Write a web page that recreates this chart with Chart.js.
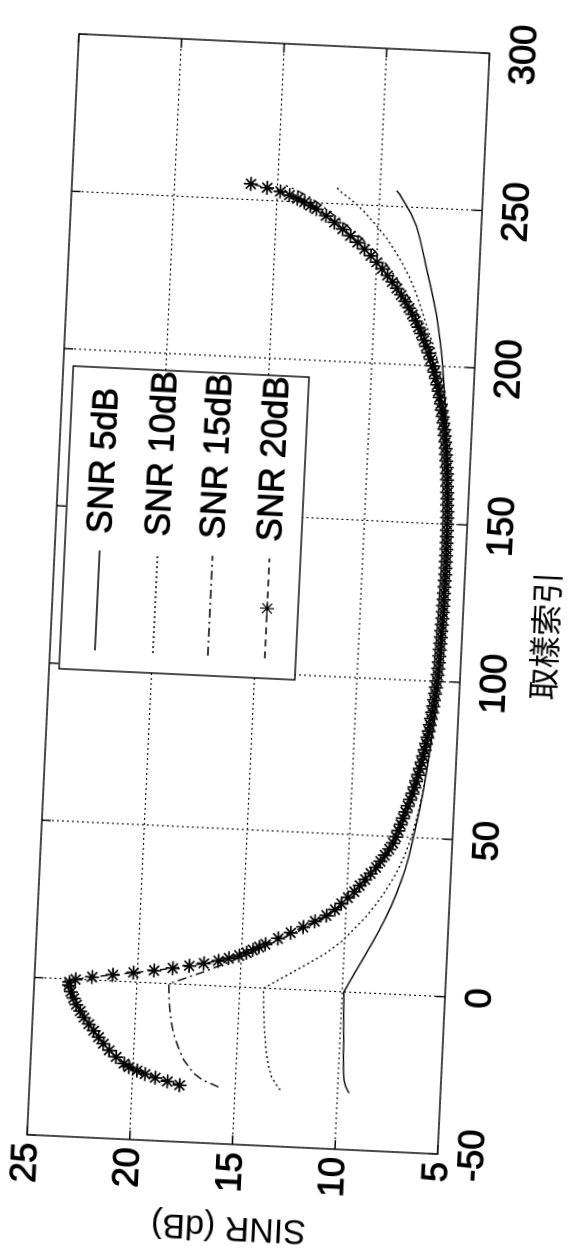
<!DOCTYPE html>
<html>
<head>
<meta charset="utf-8">
<script src="https://cdn.jsdelivr.net/npm/chart.js@4.4.0/dist/chart.umd.min.js"></script>
<style>
html, body { margin: 0; padding: 0; background: #fff; }
body { width: 571px; height: 1254px; overflow: hidden; position: relative; }
/* the figure is printed on its side, so the chart is drawn upright and turned */
#wrap {
    position: absolute; left: -407.25px; top: 343.75px;
    width: 1256px; height: 581px;
    transform-origin: 665.5px 245.5px;
    transform: rotate(-87.3deg);
}
</style>
</head>
<body>
<div id="wrap"><canvas id="sinrChart" width="1256" height="581"></canvas></div>
<script>
var seriesNames = ["SNR 5dB", "SNR 10dB", "SNR 15dB", "SNR 20dB"];
var xTicks = [-50, 0, 50, 100, 150, 200, 250, 300];
var yTicks = [5, 10, 15, 20, 25];
var xTitle = "取樣索引";
var yTitle = "SINR (dB)";

// sample index for the three plain curves
var idxLines = [-32, -30, -28, -24, -20, -16, -12, -8, -4, 0,
    4, 8, 12, 16, 20, 24, 28, 32, 36, 40,
    44, 48, 52, 56, 60, 64, 68, 72, 76, 80,
    84, 88, 92, 96, 100, 104, 108, 112, 116, 120,
    124, 128, 132, 136, 140, 144, 148, 152, 156, 160,
    164, 168, 172, 176, 180, 184, 188, 192, 196, 200,
    204, 208, 212, 216, 220, 224, 228, 232, 236, 240,
    244, 248, 250, 252, 254, 255];

var sinr5 = [9.45, 9.62, 9.72, 9.78, 9.80, 9.82, 9.85, 9.88, 9.90, 9.93,
    9.62, 9.30, 8.98, 8.66, 8.36, 8.08, 7.82, 7.60, 7.40, 7.22,
    7.08, 6.96, 6.85, 6.74, 6.64, 6.55, 6.47, 6.40, 6.33, 6.27,
    6.21, 6.16, 6.11, 6.07, 6.03, 6.00, 5.98, 5.96, 5.94, 5.93,
    5.92, 5.92, 5.92, 5.92, 5.93, 5.94, 5.95, 5.97, 5.99, 6.02,
    6.05, 6.09, 6.13, 6.18, 6.23, 6.29, 6.35, 6.42, 6.49, 6.56,
    6.64, 6.74, 6.85, 6.97, 7.12, 7.28, 7.45, 7.62, 7.78, 7.95,
    8.15, 8.45, 8.65, 8.85, 9.05, 9.20];

var sinr10 = [12.80, 13.05, 13.25, 13.45, 13.57, 13.65, 13.72, 13.77, 13.81, 13.84,
    12.85, 11.85, 10.90, 10.15, 9.60, 9.05, 8.60, 8.20, 7.85, 7.55,
    7.30, 7.10, 6.93, 6.79, 6.67, 6.57, 6.48, 6.40, 6.33, 6.27,
    6.22, 6.17, 6.13, 6.10, 6.07, 6.04, 6.02, 6.00, 5.99, 5.98,
    5.97, 5.97, 5.97, 5.97, 5.97, 5.98, 5.99, 6.00, 6.02, 6.05,
    6.08, 6.12, 6.17, 6.22, 6.28, 6.35, 6.43, 6.52, 6.63, 6.76,
    6.92, 7.15, 7.40, 7.62, 7.85, 8.10, 8.40, 8.75, 9.15, 9.60,
    10.15, 10.75, 11.10, 11.50, 11.95, 12.10];

var sinr15 = [15.80, 16.60, 17.05, 17.55, 17.85, 18.10, 18.25, 18.35, 18.42, 18.45,
    16.90, 15.50, 14.25, 13.10, 11.90, 10.85, 10.10, 9.50, 9.00, 8.55,
    8.15, 7.80, 7.58, 7.38, 7.18, 7.00, 6.85, 6.72, 6.59, 6.47,
    6.37, 6.29, 6.22, 6.16, 6.11, 6.07, 6.04, 6.02, 6.00, 5.99,
    5.98, 5.97, 5.96, 5.96, 5.96, 5.96, 5.97, 5.98, 6.00, 6.02,
    6.06, 6.10, 6.15, 6.21, 6.28, 6.37, 6.47, 6.60, 6.74, 6.92,
    7.12, 7.35, 7.60, 7.90, 8.25, 8.65, 9.10, 9.60, 10.20, 10.90,
    11.70, 12.55, 13.00, 13.50, 14.20, 14.60];

// the 20dB curve carries a star on every sample
var idx20 = [-32, -31, -30, -29, -28, -27, -26, -24, -22, -20,
    -18, -16, -14, -12, -10, -8, -6, -4, -2, -1,
    0, 1, 2, 3, 4, 5, 6, 7, 8, 9,
    10, 11, 12, 13, 14, 16, 18, 20, 22, 24,
    26, 28, 30, 32, 34, 36, 38, 40, 42, 44,
    46, 48, 50, 52, 54, 56, 58, 60, 62, 64,
    66, 68, 70, 72, 74, 76, 78, 80, 82, 84,
    86, 88, 90, 92, 94, 96, 98, 100, 102, 104,
    106, 108, 110, 112, 114, 116, 118, 120, 122, 124,
    126, 128, 130, 132, 134, 136, 138, 140, 142, 144,
    146, 148, 150, 152, 154, 156, 158, 160, 162, 164,
    166, 168, 170, 172, 174, 176, 178, 180, 182, 184,
    186, 188, 190, 192, 194, 196, 198, 200, 202, 204,
    206, 208, 210, 212, 214, 216, 218, 220, 222, 224,
    226, 228, 230, 232, 234, 236, 238, 240, 242, 244,
    246, 248, 249, 250, 251, 252, 253, 254, 255];

var sinr20 = [17.70, 18.30, 18.90, 19.40, 19.80, 20.20, 20.45, 20.85, 21.20, 21.50,
    21.75, 22.00, 22.25, 22.50, 22.70, 22.90, 23.05, 23.20, 23.30, 23.30,
    23.00, 22.20, 21.20, 20.20, 19.20, 18.30, 17.50, 16.80, 16.10, 15.60,
    15.10, 14.75, 14.45, 14.15, 13.85, 13.25, 12.65, 12.05, 11.50, 10.95,
    10.55, 10.25, 9.95, 9.65, 9.40, 9.15, 8.90, 8.65, 8.45, 8.25,
    8.05, 7.88, 7.75, 7.65, 7.55, 7.45, 7.35, 7.25, 7.15, 7.05,
    6.97, 6.90, 6.82, 6.75, 6.68, 6.62, 6.56, 6.50, 6.45, 6.40,
    6.36, 6.32, 6.28, 6.24, 6.21, 6.18, 6.15, 6.12, 6.10, 6.08,
    6.07, 6.06, 6.05, 6.04, 6.03, 6.02, 6.01, 6.00, 5.99, 5.99,
    5.98, 5.98, 5.97, 5.97, 5.96, 5.96, 5.96, 5.96, 5.96, 5.97,
    5.97, 5.98, 5.98, 5.99, 6.00, 6.02, 6.03, 6.05, 6.07, 6.09,
    6.11, 6.14, 6.17, 6.20, 6.23, 6.26, 6.30, 6.34, 6.39, 6.44,
    6.50, 6.56, 6.63, 6.70, 6.78, 6.86, 6.95, 7.05, 7.16, 7.28,
    7.40, 7.53, 7.67, 7.82, 7.98, 8.15, 8.33, 8.53, 8.74, 8.96,
    9.20, 9.45, 9.72, 10.00, 10.30, 10.62, 10.97, 11.34, 11.73, 12.14,
    12.57, 13.05, 13.35, 13.65, 14.00, 14.40, 14.85, 15.50, 16.30];

var labelFont = "Liberation Sans";
var cjkFont = "Noto Sans CJK TC";

function toPoints(xs, ys) {
    return xs.map(function(x, i) { return {x: x, y: ys[i]}; });
}

function drawStar(ctx, x, y, r) {
    ctx.beginPath();
    ctx.moveTo(x - r, y); ctx.lineTo(x + r, y);
    ctx.moveTo(x, y - r); ctx.lineTo(x, y + r);
    var d = r * 0.7071;
    ctx.moveTo(x - d, y - d); ctx.lineTo(x + d, y + d);
    ctx.moveTo(x - d, y + d); ctx.lineTo(x + d, y - d);
    ctx.stroke();
}

// box round the axes plus the small inward ticks, like a matlab figure
var framePlugin = {
    id: "frame",
    afterDatasetsDraw: function(chart) {
        var ctx = chart.ctx, a = chart.chartArea;
        var xs = chart.scales.x, ys = chart.scales.y;
        var tl = 9;
        ctx.save();
        ctx.strokeStyle = "#000";
        ctx.lineWidth = 1.4;
        ctx.setLineDash([]);
        ctx.strokeRect(a.left, a.top, a.right - a.left, a.bottom - a.top);
        ctx.beginPath();
        xTicks.forEach(function(v) {
            var px = xs.getPixelForValue(v);
            ctx.moveTo(px, a.bottom); ctx.lineTo(px, a.bottom - tl);
            ctx.moveTo(px, a.top); ctx.lineTo(px, a.top + tl);
        });
        yTicks.forEach(function(v) {
            var py = ys.getPixelForValue(v);
            ctx.moveTo(a.left, py); ctx.lineTo(a.left + tl, py);
            ctx.moveTo(a.right, py); ctx.lineTo(a.right - tl, py);
        });
        ctx.stroke();
        ctx.restore();
    }
};

// legend box sits inside the axes, as in the figure
var legendPlugin = {
    id: "insideLegend",
    afterDraw: function(chart) {
        var ctx = chart.ctx, a = chart.chartArea;
        var bx = a.left + 467, by = a.top + 10, bw = 303, bh = 236;
        var rows = [35, 93, 148, 205];
        ctx.save();
        ctx.fillStyle = "#fff";
        ctx.fillRect(bx, by, bw, bh);
        ctx.strokeStyle = "#000";
        ctx.lineWidth = 1.4;
        ctx.setLineDash([]);
        ctx.strokeRect(bx, by, bw, bh);
        chart.data.datasets.forEach(function(ds, i) {
            var y = by + rows[i];
            ctx.lineWidth = ds.borderWidth;
            ctx.setLineDash(ds.borderDash || []);
            ctx.beginPath();
            ctx.moveTo(bx + 20, y);
            ctx.lineTo(bx + 120, y);
            ctx.stroke();
            ctx.setLineDash([]);
            if (ds.pointRadius > 0) {
                ctx.lineWidth = 1.2;
                drawStar(ctx, bx + 70, y, ds.pointRadius);
            }
            ctx.fillStyle = "#000";
            ctx.font = "35px '" + labelFont + "'";
            ctx.textAlign = "left";
            ctx.textBaseline = "middle";
            ctx.lineWidth = 0.9;
            ctx.fillText(ds.label, bx + 137, y + 1);
            ctx.strokeText(ds.label, bx + 137, y + 1);
        });
        // x axis caption, set a bit off centre like the original
        ctx.font = "32px '" + cjkFont + "'";
        ctx.textAlign = "center";
        ctx.fillText(xTitle, chart.scales.x.getPixelForValue(116), a.bottom + 83);
        ctx.restore();
    }
};

window.addEventListener("DOMContentLoaded", function() {
    var elem = document.getElementById("sinrChart");
    var lineStyles = [[], [2, 3], [9, 4, 2, 4], [7, 5]];
    var seriesX = [idxLines, idxLines, idxLines, idx20];
    var seriesY = [sinr5, sinr10, sinr15, sinr20];

    var datasets = seriesNames.map(function(name, i) {
        var isStar = (i === 3);
        return {
            label: name,
            data: toPoints(seriesX[i], seriesY[i]),
            borderColor: "#000",
            borderWidth: 1.4,
            borderDash: lineStyles[i],
            tension: 0,
            fill: false,
            pointStyle: "star",
            pointRadius: isStar ? 7 : 0,
            pointBorderColor: "#000",
            pointBackgroundColor: "#000",
            pointBorderWidth: 1.7
        };
    });

    new Chart(elem, {
        type: "line",
        data: {datasets: datasets},
        options: {
            responsive: false,
            animation: false,
            devicePixelRatio: 2,
            layout: {padding: {top: 40, right: 35, bottom: 0, left: 0}},
            plugins: {legend: {display: false}, tooltip: {enabled: false}},
            scales: {
                x: {
                    type: "linear",
                    min: xTicks[0],
                    max: xTicks[xTicks.length - 1],
                    afterBuildTicks: function(s) { s.ticks = xTicks.map(function(v) { return {value: v}; }); },
                    afterFit: function(s) { s.height = 130; },
                    grid: {color: "#000", lineWidth: 1.1, drawTicks: false},
                    border: {display: false, dash: [2, 3]},
                    ticks: {color: "#000", font: {family: labelFont, size: 36}, padding: 14, maxRotation: 0, autoSkip: false,
                        textStrokeColor: "#000", textStrokeWidth: 1}
                },
                y: {
                    min: yTicks[0],
                    max: yTicks[yTicks.length - 1],
                    afterBuildTicks: function(s) { s.ticks = yTicks.map(function(v) { return {value: v}; }); },
                    afterFit: function(s) { s.width = 110; },
                    grid: {color: "#000", lineWidth: 1.1, drawTicks: false},
                    border: {display: false, dash: [2, 3]},
                    ticks: {color: "#000", font: {family: labelFont, size: 36}, padding: 8,
                        textStrokeColor: "#000", textStrokeWidth: 1},
                    title: {display: true, text: yTitle, color: "#000", font: {family: labelFont, size: 34}, padding: {top: 7, bottom: 0}}
                }
            }
        },
        plugins: [framePlugin, legendPlugin]
    });
});
</script>
</body>
</html>
